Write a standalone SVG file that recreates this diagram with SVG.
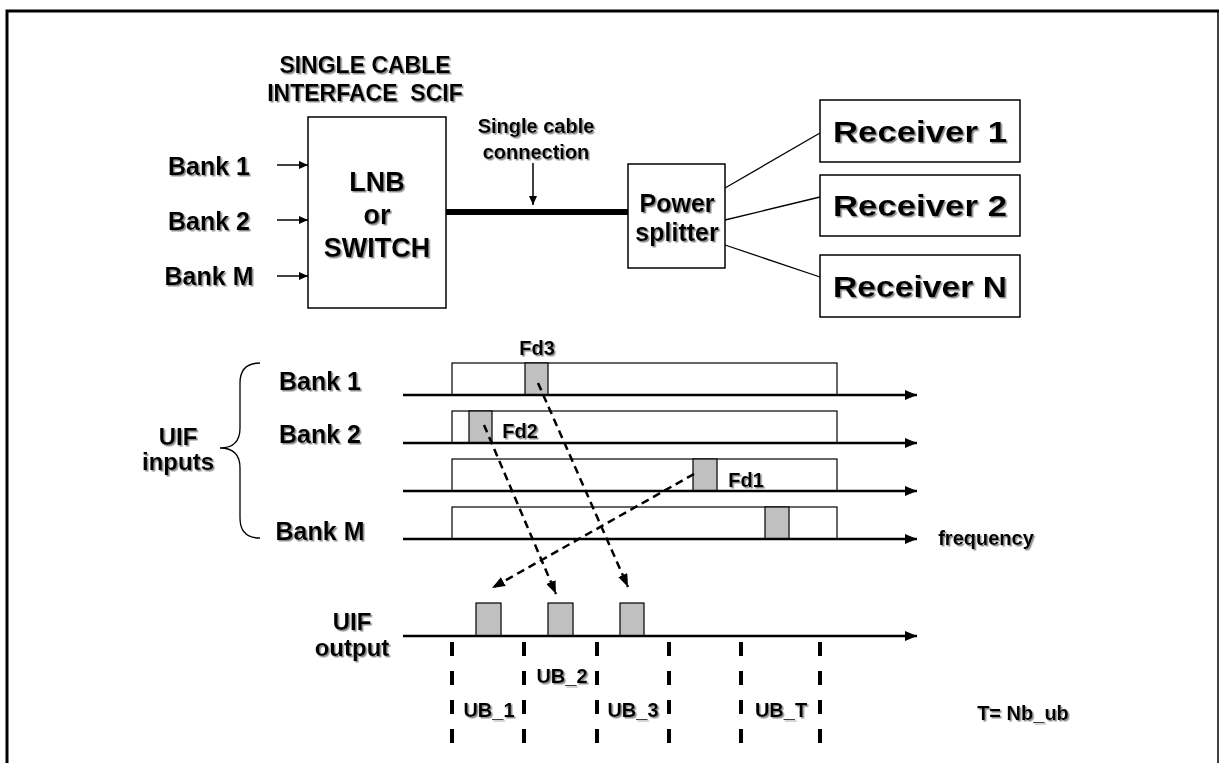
<svg xmlns="http://www.w3.org/2000/svg" width="1219" height="763" viewBox="0 0 1219 763">
<style>
text{font-family:"Liberation Sans",Arial,sans-serif;font-weight:bold;fill:#000;text-anchor:middle;filter:url(#sh)}
.box{fill:#fff;stroke:#000;stroke-width:1.5}
.band{fill:#fff;stroke:#000;stroke-width:1.2}
.blk{fill:#c0c0c0;stroke:#000;stroke-width:1.2}
.ax{stroke:#000;stroke-width:2.5;fill:none;marker-end:url(#ahb)}
.thin{stroke:#000;stroke-width:1.5;fill:none;marker-end:url(#ah)}
.dash{stroke:#000;stroke-width:2.5;fill:none;stroke-dasharray:8 5;marker-end:url(#ahd)}
.tick{stroke:#000;stroke-width:4;stroke-dasharray:14 15;fill:none}
.wire{stroke:#000;stroke-width:1.3;fill:none}
</style>
<defs>
<filter id="sh" x="-10%" y="-20%" width="130%" height="150%">
<feDropShadow dx="1.5" dy="1.5" stdDeviation="0.5" flood-color="#7f7f7f" flood-opacity="0.9"/>
</filter>
<marker id="ah" markerUnits="userSpaceOnUse" markerWidth="9" markerHeight="8" refX="9" refY="4" orient="auto"><path d="M0,0 L9,4 L0,8 z" fill="#000"/></marker>
<marker id="ahb" markerUnits="userSpaceOnUse" markerWidth="12" markerHeight="10" refX="12" refY="5" orient="auto"><path d="M0,0 L12,5 L0,10 z" fill="#000"/></marker>
<marker id="ahd" markerUnits="userSpaceOnUse" markerWidth="13" markerHeight="10" refX="13" refY="5" orient="auto"><path d="M0,0 L13,5 L0,10 z" fill="#000"/></marker>
</defs>
<rect width="1219" height="763" fill="#fff"/>
<g id="frame" fill="none" stroke="#000">
<path d="M7,763 V11 H1219" stroke-width="3"/>
<path d="M1218,11 V763" stroke-width="1.5"/>
</g>
<g id="title">
<text x="365" y="73" font-size="23">SINGLE CABLE</text>
<text x="365" y="101" font-size="23" xml:space="preserve">INTERFACE  SCIF</text>
</g>
<g id="lnb">
<rect class="box" x="308" y="117" width="138" height="191"/>
<text x="377" y="191" font-size="27">LNB</text>
<text x="377" y="224" font-size="27">or</text>
<text x="377" y="257" font-size="27">SWITCH</text>
</g>
<g id="bank-inputs">
<text x="209" y="175" font-size="25">Bank 1</text>
<text x="209" y="230" font-size="25">Bank 2</text>
<text x="209" y="285" font-size="25">Bank M</text>
</g>
<g id="cable-label">
<text x="536" y="133" font-size="20">Single cable</text>
<text x="536" y="159" font-size="20">connection</text>
</g>
<g id="splitter">
<rect class="box" x="628" y="164" width="97" height="104"/>
<text x="677" y="212" font-size="25">Power</text>
<text x="677" y="241" font-size="25">splitter</text>
</g>
<g id="receiver1">
<rect class="box" x="820" y="100" width="200" height="62"/>
<text x="920" y="142" font-size="30" textLength="174" lengthAdjust="spacingAndGlyphs">Receiver 1</text>
</g>
<g id="receiver2">
<rect class="box" x="820" y="175" width="200" height="61"/>
<text x="920" y="216" font-size="30" textLength="174" lengthAdjust="spacingAndGlyphs">Receiver 2</text>
</g>
<g id="receiverN">
<rect class="box" x="820" y="255" width="200" height="62"/>
<text x="920" y="297" font-size="30" textLength="174" lengthAdjust="spacingAndGlyphs">Receiver N</text>
</g>
<g id="connectors">
<line class="thin" x1="277" y1="165" x2="308" y2="165"/>
<line class="thin" x1="277" y1="220" x2="308" y2="220"/>
<line class="thin" x1="277" y1="276" x2="308" y2="276"/>
<line class="thin" x1="533" y1="163" x2="533" y2="205"/>
<line x1="446" y1="212" x2="628" y2="212" stroke="#000" stroke-width="6"/>
<line class="wire" x1="725" y1="188" x2="820" y2="133"/>
<line class="wire" x1="725" y1="220" x2="820" y2="197"/>
<line class="wire" x1="725" y1="245" x2="820" y2="277"/>
</g>
<g id="uif-inputs-label">
<path d="M260,363 Q240,363 240,383 L240,428 Q240,448 220,448 Q240,448 240,468 L240,518 Q240,538 260,538" fill="none" stroke="#000" stroke-width="1.3"/>
<text x="178" y="445" font-size="24">UIF</text>
<text x="178" y="470" font-size="24">inputs</text>
</g>
<g id="bank-rows">
<text x="320" y="390" font-size="25">Bank 1</text>
<text x="320" y="443" font-size="25">Bank 2</text>
<text x="320" y="540" font-size="25">Bank M</text>
<rect class="band" x="452" y="363" width="385" height="32"/>
<rect class="band" x="452" y="411" width="385" height="32"/>
<rect class="band" x="452" y="459" width="385" height="32"/>
<rect class="band" x="452" y="507" width="385" height="32"/>
<rect class="blk" x="525" y="363" width="23" height="32"/>
<rect class="blk" x="469" y="411" width="23" height="32"/>
<rect class="blk" x="693" y="459" width="24" height="32"/>
<rect class="blk" x="765" y="507" width="24" height="32"/>
<line class="ax" x1="403" y1="395" x2="917" y2="395"/>
<line class="ax" x1="403" y1="443" x2="917" y2="443"/>
<line class="ax" x1="403" y1="491" x2="917" y2="491"/>
<line class="ax" x1="403" y1="539" x2="917" y2="539"/>
<text x="537" y="355" font-size="20">Fd3</text>
<text x="520" y="438" font-size="20">Fd2</text>
<text x="746" y="487" font-size="20">Fd1</text>
<text x="986" y="545" font-size="20">frequency</text>
</g>
<g id="mapping-arrows">
<line class="dash" x1="538" y1="383" x2="628" y2="587"/>
<line class="dash" x1="484" y1="425" x2="556" y2="594"/>
<line class="dash" x1="694" y1="474" x2="492" y2="588"/>
</g>
<g id="uif-output">
<text x="352" y="630" font-size="24">UIF</text>
<text x="352" y="656" font-size="24">output</text>
<rect class="blk" x="476" y="603" width="25" height="33"/>
<rect class="blk" x="548" y="603" width="25" height="33"/>
<rect class="blk" x="620" y="603" width="24" height="33"/>
<line class="ax" x1="403" y1="636" x2="917" y2="636"/>
</g>
<g id="user-bands">
<line class="tick" x1="452" y1="642" x2="452" y2="746"/>
<line class="tick" x1="524" y1="642" x2="524" y2="746"/>
<line class="tick" x1="597" y1="642" x2="597" y2="746"/>
<line class="tick" x1="669" y1="642" x2="669" y2="746"/>
<line class="tick" x1="741" y1="642" x2="741" y2="746"/>
<line class="tick" x1="820" y1="642" x2="820" y2="746"/>
<text x="562" y="683" font-size="20">UB_2</text>
<text x="489" y="717" font-size="20">UB_1</text>
<text x="633" y="717" font-size="20">UB_3</text>
<text x="781" y="717" font-size="20">UB_T</text>
<text x="1023" y="720" font-size="20">T= Nb_ub</text>
</g>
</svg>
